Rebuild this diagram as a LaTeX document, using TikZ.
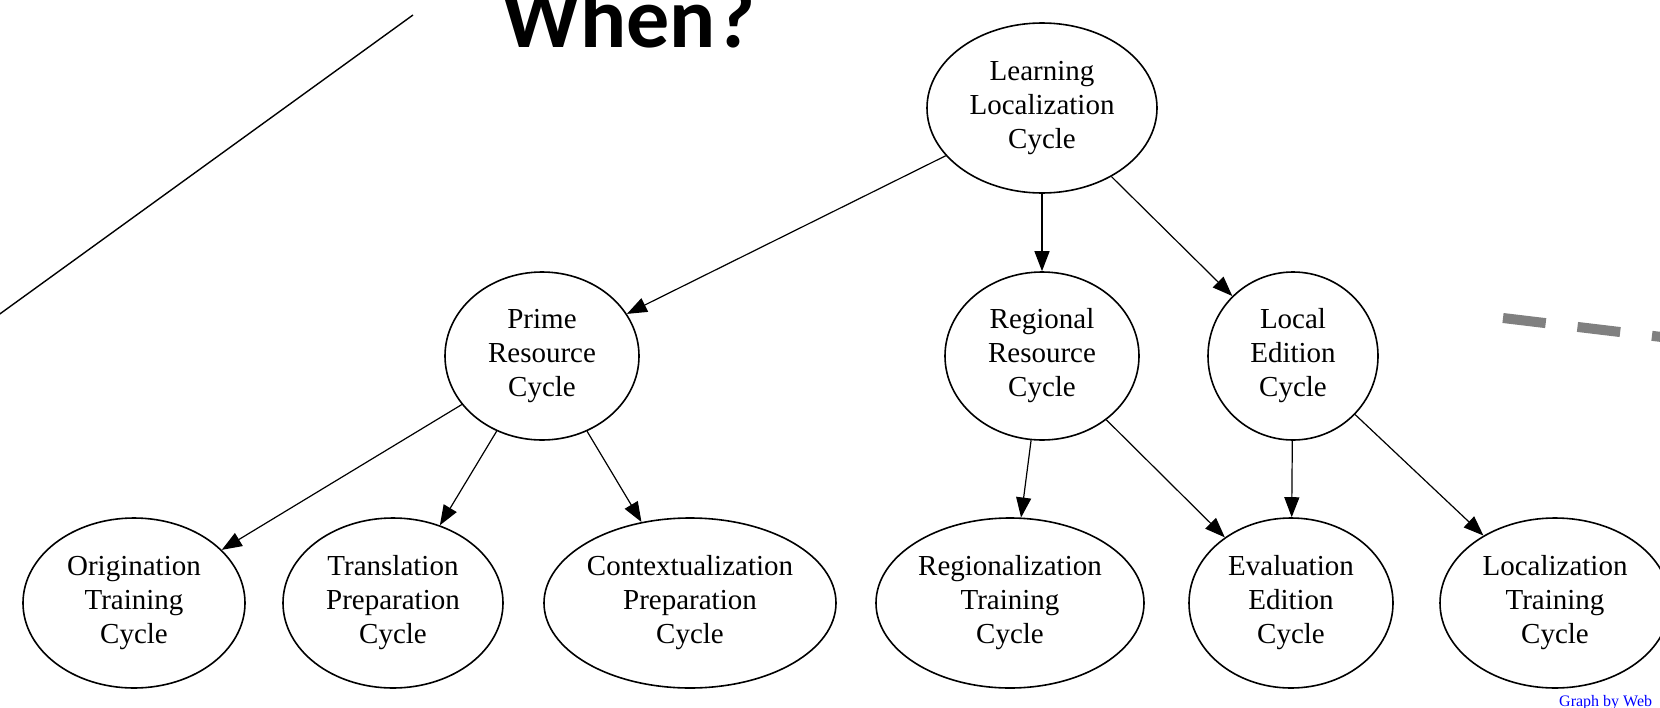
\documentclass[tikz,border=0pt]{standalone}
\usepackage{fontspec}
\setmainfont{Liberation Serif}
\newfontfamily\titlefont{Carlito}
\usetikzlibrary{arrows.meta,shapes.geometric}

\begin{document}
\begin{tikzpicture}[x=1pt,y=-1pt,
    cycle/.style={ellipse, draw, line width=1.6pt, inner sep=0pt, align=center,
        font=\fontsize{29}{34}\selectfont},
    edge/.style={-{Triangle[length=20pt,width=15pt]}, line width=1.2pt}]
    \useasboundingbox (0,0) rectangle (1660,707);
    \fill[white] (0,0) rectangle (1660,707);

    \node[anchor=base west, inner sep=0pt, font={\titlefont\fontsize{86}{90}\selectfont\bfseries}] (title) at (502,47) {When?};
    \coordinate (slashtop) at (413,15);
    \coordinate (slashbot) at (-3,316);
    \draw[line width=1.4pt] (slashtop) -- (slashbot);
    \coordinate (dashstart) at (1503,318);
    \coordinate (dashend) at (1720,344);
    \draw[gray, line width=10pt, dash pattern=on 43pt off 32pt] (dashstart) -- (dashend);

    \node[cycle, minimum width=230pt, minimum height=170pt] (llc) at (1042,108) {Learning\\Localization\\Cycle};

    \node[cycle, minimum width=194pt, minimum height=168pt] (prc) at (542,356) {Prime\\Resource\\Cycle};
    \node[cycle, minimum width=194pt, minimum height=168pt] (rrc) at (1042,356) {Regional\\Resource\\Cycle};
    \node[cycle, minimum width=170pt, minimum height=168pt] (lec) at (1293,356) {Local\\Edition\\Cycle};

    \node[cycle, minimum width=222pt, minimum height=170pt] (otc) at (134,603) {Origination\\Training\\Cycle};
    \node[cycle, minimum width=220pt, minimum height=170pt] (tpc) at (393,603) {Translation\\Preparation\\Cycle};
    \node[cycle, minimum width=292pt, minimum height=170pt] (cpc) at (690,603) {Contextualization\\Preparation\\Cycle};
    \node[cycle, minimum width=268pt, minimum height=170pt] (rtc) at (1010,603) {Regionalization\\Training\\Cycle};
    \node[cycle, minimum width=204pt, minimum height=170pt] (eec) at (1291,603) {Evaluation\\Edition\\Cycle};
    \node[cycle, minimum width=230pt, minimum height=170pt] (ltc) at (1555,603) {Localization\\Training\\Cycle};

    \draw[edge] (llc) -- (prc);
    \draw[edge] (llc) -- (rrc);
    \draw[edge] (llc) -- (lec);
    \draw[edge] (prc) -- (otc);
    \draw[edge] (prc) -- (tpc);
    \draw[edge] (prc) -- (cpc);
    \draw[edge] (rrc) -- (rtc);
    \draw[edge] (rrc) -- (eec);
    \draw[edge] (lec) -- (eec);
    \draw[edge] (lec) -- (ltc);

    \node[anchor=base west, inner sep=0pt, text=blue, font=\fontsize{16}{16}\selectfont] (credit) at (1559,706) {Graph by Web};
\end{tikzpicture}
\end{document}
